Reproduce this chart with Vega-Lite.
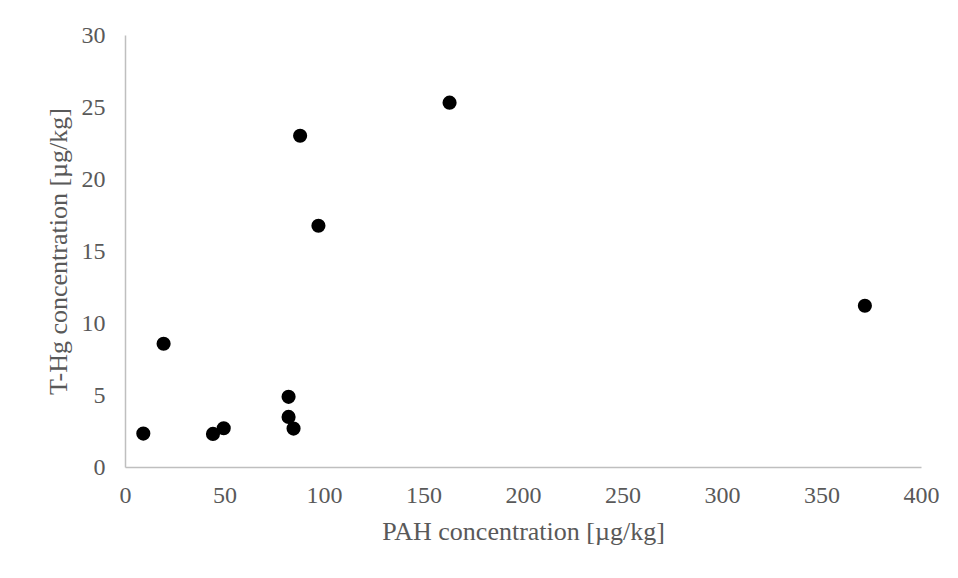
{
  "$schema": "https://vega.github.io/schema/vega-lite/v6.json",
  "autosize": {"type": "none"},
  "padding": {"left": 125, "top": 35, "right": 37, "bottom": 111},
  "width": 796,
  "height": 432,
  "background": "white",
  "config": {
    "view": {"stroke": null},
    "font": "Liberation Serif"
  },
  "data": {
    "values": [
      {"pah": 9.2, "thg": 2.32},
      {"pah": 19.4, "thg": 8.56},
      {"pah": 44.2, "thg": 2.3},
      {"pah": 49.6, "thg": 2.69},
      {"pah": 82.2, "thg": 4.87},
      {"pah": 82.2, "thg": 3.48},
      {"pah": 84.7, "thg": 2.67},
      {"pah": 88.0, "thg": 23.0},
      {"pah": 97.2, "thg": 16.75},
      {"pah": 163.1, "thg": 25.3},
      {"pah": 371.8, "thg": 11.2}
    ]
  },
  "mark": {"type": "point", "filled": true, "color": "black", "opacity": 1, "size": 200},
  "encoding": {
    "x": {
      "field": "pah",
      "type": "quantitative",
      "scale": {"domain": [0, 400], "nice": false},
      "axis": {
        "title": "PAH concentration [µg/kg]",
        "values": [0, 50, 100, 150, 200, 250, 300, 350, 400],
        "grid": false,
        "ticks": false,
        "domainColor": "#bfbfbf",
        "domainWidth": 1.5,
        "labelColor": "#595959",
        "labelFont": "Liberation Serif",
        "labelFontSize": 24,
        "labelPadding": 16,
        "labelFlush": false,
        "titleColor": "#595959",
        "titleFont": "Liberation Serif",
        "titleFontSize": 26,
        "titleFontWeight": "normal",
        "titlePadding": 11
      }
    },
    "y": {
      "field": "thg",
      "type": "quantitative",
      "scale": {"domain": [0, 30], "nice": false},
      "axis": {
        "title": "T-Hg concentration [µg/kg]",
        "values": [0, 5, 10, 15, 20, 25, 30],
        "grid": false,
        "ticks": false,
        "domainColor": "#bfbfbf",
        "domainWidth": 1.5,
        "labelColor": "#595959",
        "labelFont": "Liberation Serif",
        "labelFontSize": 24,
        "labelPadding": 20,
        "labelFlush": false,
        "titleColor": "#595959",
        "titleFont": "Liberation Serif",
        "titleFontSize": 26,
        "titleFontWeight": "normal",
        "titlePadding": 10
      }
    }
  }
}
